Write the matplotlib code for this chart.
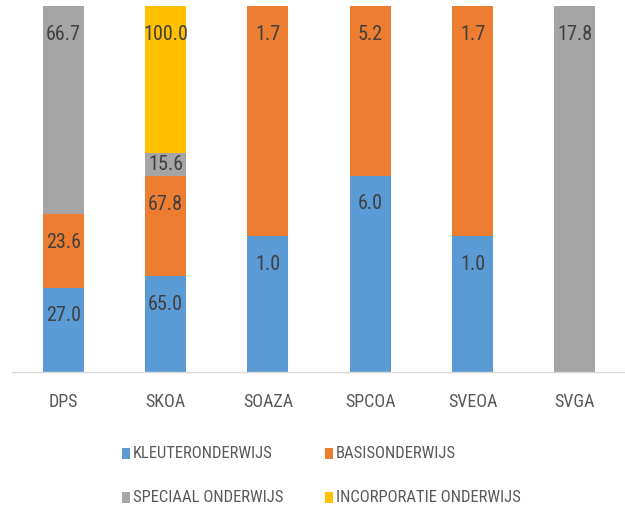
import matplotlib
matplotlib.use("Agg")
import matplotlib.pyplot as plt
from matplotlib.patches import Rectangle
from matplotlib import font_manager as fm
import numpy as np

categories = ["DPS", "SKOA", "SOAZA", "SPCOA", "SVEOA", "SVGA"]
series_names = ["KLEUTERONDERWIJS", "BASISONDERWIJS", "SPECIAAL ONDERWIJS", "INCORPORATIE ONDERWIJS"]
kleuter = [27.0, 65.0, 1.0, 6.0, 1.0, 0.0]
basis = [23.6, 67.8, 1.7, 5.2, 1.7, 0.0]
speciaal = [66.7, 15.6, 0.0, 0.0, 0.0, 17.8]
incorporatie = [0.0, 100.0, 0.0, 0.0, 0.0, 0.0]
colors = ["#5B9BD5", "#ED7D31", "#A5A5A5", "#FFC000"]

# pick a condensed / narrow font if one is installed
def pick_font():
    prefs = ["Roboto Condensed", "Liberation Sans Narrow", "Open Sans Condensed",
             "Noto Sans Condensed", "DejaVu Sans Condensed"]
    entries = fm.fontManager.ttflist
    for p in prefs:
        for e in entries:
            if e.name == p and e.style == "normal" and e.weight in (400, "normal", "regular"):
                return e.fname
    return None

fname = pick_font()

def fp(size):
    if fname:
        return fm.FontProperties(fname=fname, size=size)
    return fm.FontProperties(family="DejaVu Sans", stretch="condensed", size=size)

W, H = 625, 507
fig = plt.figure(figsize=(W / 100, H / 100), dpi=100)
ax = fig.add_axes([12 / W, 1 - 372 / H, 614 / W, 366 / H])

data = np.array([kleuter, basis, speciaal, incorporatie])
totals = data.sum(axis=0)
pct = data / totals * 100
x = np.arange(len(categories))
px_per_unit = 366 / 100.0
bottom = np.zeros(len(categories))
for s in range(len(series_names)):
    ax.bar(x, pct[s], 0.4, bottom=bottom, color=colors[s], linewidth=0)
    for i in range(len(categories)):
        if data[s, i] > 0:
            top = bottom[i] + pct[s, i]
            seg_px = pct[s, i] * px_per_unit
            off_px = min(28.0, seg_px / 2)
            ax.annotate(f"{data[s, i]:.1f}", xy=(x[i], top), xytext=(0, -off_px * 0.72),
                        textcoords="offset points", ha="center", va="center",
                        fontproperties=fp(14.5), color="#404040")
    bottom = bottom + pct[s]

ax.set_xlim(-0.5, len(categories) - 0.5)
ax.set_ylim(0, 100)
ax.set_yticks([])
ax.set_xticks(x)
ax.set_xticklabels(categories, fontproperties=fp(13), color="#595959")
ax.tick_params(axis="x", length=0, pad=15)
for sp in ["top", "left", "right"]:
    ax.spines[sp].set_visible(False)
ax.spines["bottom"].set_color("#D9D9D9")
ax.spines["bottom"].set_linewidth(1.0)

# legend
leg_pos = [(122, 453), (325, 453), (122, 497), (325, 497)]
for (lx, ly), name, c in zip(leg_pos, series_names, colors):
    fig.patches.append(Rectangle((lx / W, 1 - (ly + 5.5) / H), 8 / W, 11 / H,
                                 transform=fig.transFigure, facecolor=c, edgecolor="none"))
    fig.text((lx + 11) / W, 1 - ly / H, name, fontproperties=fp(12), color="#595959",
             va="center", ha="left")

fig.savefig("out.png", dpi=100)
